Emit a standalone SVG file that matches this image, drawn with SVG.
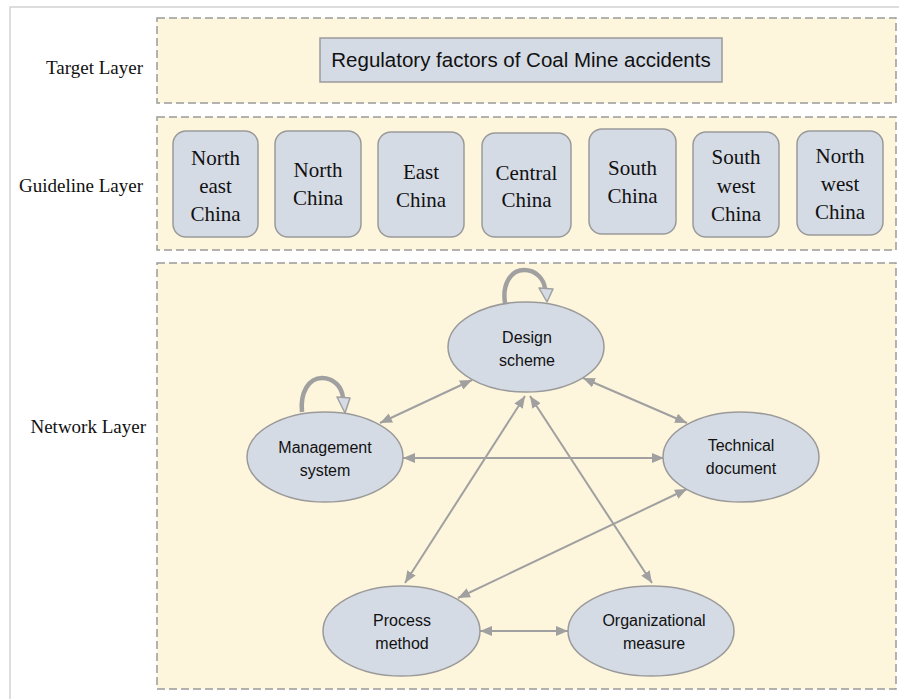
<svg xmlns="http://www.w3.org/2000/svg" width="899" height="699" viewBox="0 0 899 699">
  <style>
    .frame { fill: #ffffff; stroke: #d2d2d2; stroke-width: 1.5; }
    .layer { fill: #fdf5dc; stroke: #9a9a9a; stroke-width: 1.5; stroke-dasharray: 8 4; }
    .layer-label { font-family: "Liberation Serif", "Times New Roman", serif; font-size: 19px; fill: #111111; text-anchor: end; }
    .box { fill: #d5dbe5; stroke: #9a9a9a; stroke-width: 1.5; }
    .region { font-family: "Liberation Serif", "Times New Roman", serif; font-size: 21px; fill: #111111; text-anchor: middle; }
    .title { font-family: "Liberation Sans", Arial, sans-serif; font-size: 20.5px; fill: #111111; text-anchor: middle; }
    .node { fill: #d5dbe5; stroke: #9a9a9a; stroke-width: 1.5; }
    .node-text { font-family: "Liberation Sans", Arial, sans-serif; font-size: 16px; fill: #111111; text-anchor: middle; }
    .edge { fill: none; stroke: #a0a0a0; stroke-width: 2; marker-start: url(#arrow); marker-end: url(#arrow); }
    .loop { fill: none; stroke: #a0a0a0; stroke-width: 4.5; }
    .loop-head { fill: #d5dbe5; stroke: #a0a0a0; stroke-width: 1.5; stroke-linejoin: round; }
  </style>
  <defs>
    <marker id="arrow" markerUnits="userSpaceOnUse" markerWidth="12" markerHeight="10" viewBox="0 0 12 10" refX="12" refY="5" orient="auto-start-reverse">
      <path d="M0,0 L12,5 L0,10 Z" fill="#a0a0a0"/>
    </marker>
  </defs>

  <!-- page frame -->
  <rect class="frame" x="10" y="7" width="900" height="700"/>

  <!-- layers -->
  <g id="target-layer">
    <rect class="layer" x="157" y="18" width="739" height="85"/>
    <text class="layer-label" x="143" y="74">Target Layer</text>
  </g>
  <g id="guideline-layer">
    <rect class="layer" x="157" y="117" width="739" height="133"/>
    <text class="layer-label" x="143" y="192">Guideline Layer</text>
  </g>
  <g id="network-layer">
    <rect class="layer" x="157" y="263" width="739" height="426"/>
    <text class="layer-label" x="146" y="433">Network Layer</text>
  </g>

  <!-- target -->
  <g id="target">
    <rect class="box" x="320" y="38" width="402" height="44"/>
    <text class="title" x="521" y="67">Regulatory factors of Coal Mine accidents</text>
  </g>

  <!-- regions -->
  <g id="northeast-china">
    <rect class="box" x="173" y="131" width="85" height="106" rx="13"/>
    <text class="region" x="215.5" y="165">North</text>
    <text class="region" x="215.5" y="193">east</text>
    <text class="region" x="215.5" y="221">China</text>
  </g>
  <g id="north-china">
    <rect class="box" x="275" y="131" width="86" height="106" rx="13"/>
    <text class="region" x="318" y="177">North</text>
    <text class="region" x="318" y="205">China</text>
  </g>
  <g id="east-china">
    <rect class="box" x="378" y="132" width="86" height="105" rx="13"/>
    <text class="region" x="421" y="179">East</text>
    <text class="region" x="421" y="207">China</text>
  </g>
  <g id="central-china">
    <rect class="box" x="482" y="133" width="89" height="104" rx="13"/>
    <text class="region" x="526.5" y="180">Central</text>
    <text class="region" x="526.5" y="207">China</text>
  </g>
  <g id="south-china">
    <rect class="box" x="589" y="129" width="87" height="105" rx="13"/>
    <text class="region" x="632.5" y="175">South</text>
    <text class="region" x="632.5" y="203">China</text>
  </g>
  <g id="southwest-china">
    <rect class="box" x="693" y="132" width="86" height="105" rx="13"/>
    <text class="region" x="736" y="164">South</text>
    <text class="region" x="736" y="193">west</text>
    <text class="region" x="736" y="221">China</text>
  </g>
  <g id="northwest-china">
    <rect class="box" x="797" y="131" width="86" height="104" rx="13"/>
    <text class="region" x="840" y="163">North</text>
    <text class="region" x="840" y="191">west</text>
    <text class="region" x="840" y="219">China</text>
  </g>

  <!-- connectors -->
  <g id="connectors">
    <line class="edge" x1="472" y1="380" x2="380" y2="423"/>
    <line class="edge" x1="583" y1="378" x2="687" y2="423"/>
    <line class="edge" x1="403" y1="458" x2="664" y2="458"/>
    <line class="edge" x1="525" y1="396" x2="405" y2="583"/>
    <line class="edge" x1="530" y1="396" x2="652" y2="583"/>
    <line class="edge" x1="687" y1="489" x2="458" y2="598"/>
    <line class="edge" x1="480" y1="631" x2="568" y2="631"/>
    <!-- self loops -->
    <path class="loop" d="M505,303 C502,284 511,270 524,270 C536,270 544,279 545,289"/>
    <polygon class="loop-head" points="539,288 553,289 547,302"/>
    <path class="loop" d="M302,412 C300,392 309,378 322,378 C334,378 342,387 343,398"/>
    <polygon class="loop-head" points="337,397 350,398 345,413"/>
  </g>

  <!-- network nodes -->
  <g id="design-scheme">
    <ellipse class="node" cx="526" cy="347" rx="78" ry="45"/>
    <text class="node-text" x="527" y="343">Design</text>
    <text class="node-text" x="527" y="366">scheme</text>
  </g>
  <g id="management-system">
    <ellipse class="node" cx="325" cy="457" rx="78" ry="45"/>
    <text class="node-text" x="325" y="453">Management</text>
    <text class="node-text" x="325" y="476">system</text>
  </g>
  <g id="technical-document">
    <ellipse class="node" cx="741" cy="457" rx="78" ry="45"/>
    <text class="node-text" x="741" y="451">Technical</text>
    <text class="node-text" x="741" y="474">document</text>
  </g>
  <g id="process-method">
    <ellipse class="node" cx="401.5" cy="631" rx="78.5" ry="45"/>
    <text class="node-text" x="402" y="626">Process</text>
    <text class="node-text" x="402" y="649">method</text>
  </g>
  <g id="organizational-measure">
    <ellipse class="node" cx="651" cy="631" rx="83" ry="45"/>
    <text class="node-text" x="654" y="626">Organizational</text>
    <text class="node-text" x="654" y="649">measure</text>
  </g>
</svg>
